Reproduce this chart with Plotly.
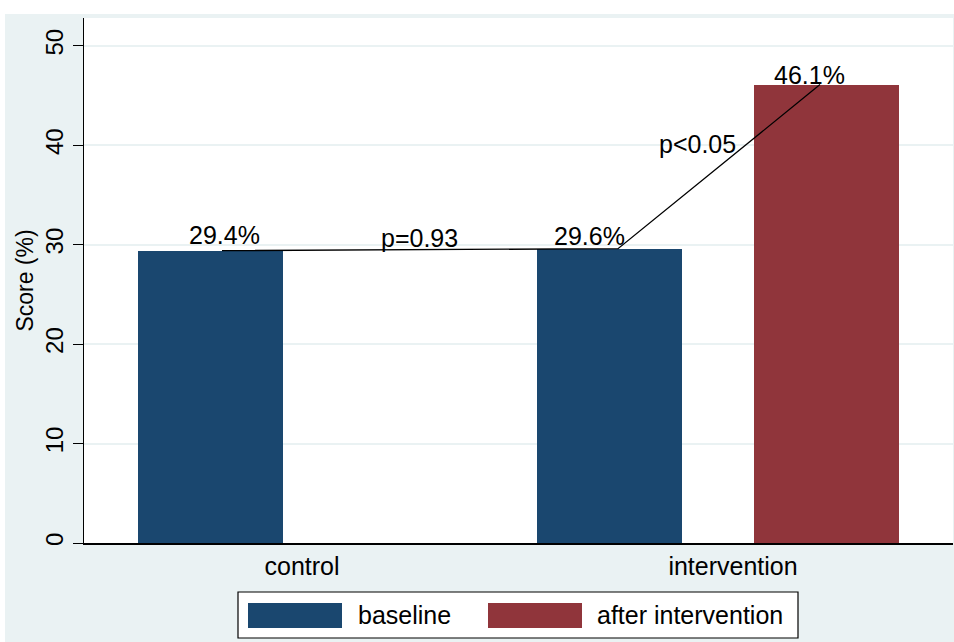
import plotly.graph_objects as go

# ---- data ----
groups = ["control", "intervention"]
series_names = ["baseline", "after intervention"]
baseline = [29.4, 29.6]
after = [None, 46.1]
bar_labels = ["29.4%", "29.6%", "46.1%"]
p_labels = ["p=0.93", "p<0.05"]
y_ticks = [0, 10, 20, 30, 40, 50]
y_title = "Score (%)"

# ---- style / layout ----
W, H = 954, 642
L, R, T, B = 84, 953, 18, 543
colors = ["#1a476f", "#90353b"]
bg = "#eaf2f3"
FONT = "Liberation Sans, Arial, sans-serif"
YMAX = 52.8

def pxx(x):
    return (x - L) / (R - L)

def pxy(y):
    return (B - y) / (B - T)

# x axis in pixel-like units
bar_centers = {("control", 0): 210, ("intervention", 0): 609, ("intervention", 1): 826}
bar_width = 145
group_label_x = [302, 733]

fig = go.Figure()
series = [baseline, after]
for si, vals in enumerate(series):
    xs, ys = [], []
    for gi, g in enumerate(groups):
        if vals[gi] is None:
            continue
        xs.append(bar_centers[(g, si)])
        ys.append(vals[gi])
    fig.add_trace(go.Bar(x=xs, y=ys, width=bar_width, name=series_names[si],
                         marker=dict(color=colors[si], line=dict(width=0)),
                         showlegend=False))

# connecting line
line_x = [222, 618, 820]
line_y = [baseline[0], baseline[1], after[1]]
fig.add_trace(go.Scatter(x=line_x, y=line_y, mode="lines",
                         line=dict(color="black", width=1.3), showlegend=False,
                         hoverinfo="skip"))

annotations = []
label_x = [224, 589, 809]
label_shift = [16, 13, 10]
label_vals = [baseline[0], baseline[1], after[1]]
for t, x, v, s in zip(bar_labels, label_x, label_vals, label_shift):
    annotations.append(dict(x=x, y=v, xref="x", yref="y", text=t, showarrow=False,
                            yanchor="middle", xanchor="center", yshift=s,
                            font=dict(family=FONT, size=25, color="black")))
p_pos = [(419, 238), (697, 144)]
for t, (x, y) in zip(p_labels, p_pos):
    annotations.append(dict(x=x, y=(B - y) / ((B - T) / YMAX), xref="x", yref="y",
                            text=t, showarrow=False, yanchor="middle", xanchor="center",
                            font=dict(family=FONT, size=25, color="black")))

shapes = [
    # white margins (top strip, left strip)
    dict(type="rect", xref="paper", yref="paper", x0=pxx(0), x1=pxx(W), y0=pxy(0), y1=pxy(14),
         fillcolor="white", line=dict(width=0), layer="below"),
    dict(type="rect", xref="paper", yref="paper", x0=pxx(0), x1=pxx(5), y0=pxy(0), y1=pxy(H),
         fillcolor="white", line=dict(width=0), layer="below"),
    # legend box
    dict(type="rect", xref="paper", yref="paper", x0=pxx(238), x1=pxx(798), y0=pxy(592), y1=pxy(638),
         fillcolor="white", line=dict(color="black", width=1.2)),
]
leg_sw = [(248, 342), (488, 582)]
leg_tx = [356, 595]
for i in range(2):
    shapes.append(dict(type="rect", xref="paper", yref="paper", x0=pxx(leg_sw[i][0]), x1=pxx(leg_sw[i][1]),
                       y0=pxy(603), y1=pxy(628), fillcolor=colors[i], line=dict(width=0)))
    annotations.append(dict(x=pxx(leg_tx[i]), y=pxy(615), xref="paper", yref="paper",
                            text=series_names[i], showarrow=False, xanchor="left", yanchor="middle",
                            font=dict(family=FONT, size=25, color="black")))

fig.update_layout(
    width=W, height=H,
    margin=dict(l=L, r=W - R, t=T, b=H - B, pad=0),
    paper_bgcolor=bg, plot_bgcolor="white",
    font=dict(family=FONT, size=24, color="black"),
    shapes=shapes, annotations=annotations,
    bargap=0,
    xaxis=dict(range=[L, R], tickmode="array", tickvals=group_label_x, ticktext=groups,
               showgrid=False, zeroline=False, showline=True, linecolor="black", linewidth=1.5,
               ticks="", tickfont=dict(size=25), fixedrange=True),
    yaxis=dict(range=[0, YMAX], tickmode="array", tickvals=y_ticks,
               showgrid=True, gridcolor=bg, gridwidth=1.5, zeroline=False,
               showline=True, linecolor="black", linewidth=1.3,
               ticks="outside", ticklen=10, tickcolor="black", tickwidth=1.3,
               tickangle=-90, tickfont=dict(size=24),
               title=dict(text=y_title, font=dict(size=23), standoff=1)),
)

fig.write_html("out.html", config={"displayModeBar": False},
               post_script="document.body.style.margin='0';document.body.style.overflow='hidden';")
